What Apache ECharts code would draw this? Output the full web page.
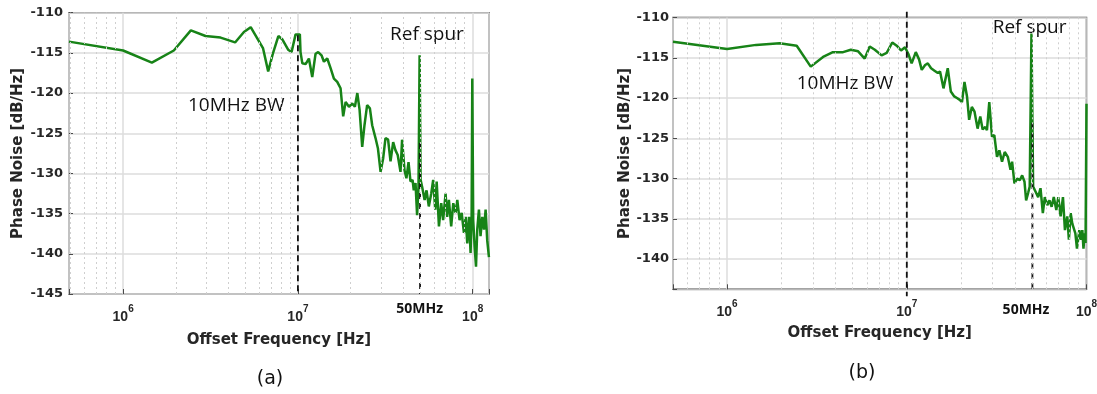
<!DOCTYPE html>
<html><head><meta charset="utf-8">
<script src="https://cdn.jsdelivr.net/npm/echarts@6/dist/echarts.min.js"></script>
<style>html,body{margin:0;padding:0;background:#fff}#c{width:1097px;height:394px}</style>
</head><body><div id="c"></div>
<script>
// ---------- data ----------
// (a) phase noise vs offset frequency
const freqA = [4.9e5,1.0e6,1.46e6,1.95e6,2.44e6,2.96e6,3.61e6,4.37e6,4.91e6,5.37e6,6.31e6,6.76e6,7.19e6,7.73e6,8.13e6,8.79e6,9.2e6,9.7e6,1.026e7,
  1.035e7,1.06e7,1.107e7,1.156e7,1.208e7,1.262e7,1.306e7,1.365e7,1.409e7,1.472e7,1.538e7,1.607e7,1.679e7,1.754e7,1.816e7,1.875e7,1.959e7,2.046e7,2.118e7,2.188e7,2.254e7,2.333e7,2.404e7,2.489e7,2.582e7,2.661e7,2.723e7,2.78e7,2.871e7,2.972e7,3.076e7,3.17e7,3.281e7,3.388e7,3.508e7,3.614e7,3.724e7,3.864e7,3.945e7,
  4.074e7,4.178e7,4.295e7,4.406e7,4.529e7,4.603e7,4.71e7,4.808e7,4.898e7,4.97e7,5.0e7,5.035e7,5.14e7,5.309e7,5.445e7,5.61e7,5.794e7,5.943e7,6.109e7,6.223e7,6.412e7,6.607e7,6.776e7,6.998e7,7.145e7,7.311e7,7.534e7,7.745e7,7.98e7,8.166e7,8.414e7,8.65e7,8.913e7,9.12e7,9.311e7,9.528e7,9.727e7,9.863e7,9.95e7,1.0e8,1.007e8,1.026e8,1.045e8,1.062e8,1.086e8,1.109e8,1.135e8,1.161e8,1.186e8,1.211e8,1.239e8];
const noiseA = [-113.6,-114.7,-116.2,-114.7,-112.2,-112.9,-113.1,-113.7,-112.4,-111.8,-114.4,-117.3,-115.1,-112.9,-113.3,-114.6,-114.9,-112.7,-112.7,
  -114.9,-116.3,-116.4,-115.7,-118.0,-115.1,-114.9,-115.3,-116.1,-115.7,-116.9,-118.2,-118.6,-119.4,-122.9,-121.1,-121.7,-121.3,-121.7,-120.0,-122.1,-126.7,-124.0,-121.5,-121.9,-124.0,-123.8,-125.6,-126.9,-129.8,-128.1,-125.6,-125.8,-128.5,-126.1,-127.1,-127.7,-129.8,-125.8,
  -129.6,-130.6,-128.6,-131.0,-130.8,-132.1,-131.2,-135.2,-131.7,-115.3,-115.5,-130.8,-131.7,-133.3,-132.1,-134.1,-132.5,-130.8,-134.5,-131.0,-136.6,-133.7,-135.8,-132.5,-135.4,-133.3,-136.6,-133.7,-134.9,-133.3,-135.8,-134.9,-137.4,-135.4,-138.7,-135.4,-139.9,-135.2,-118.2,-118.3,-135.8,-139.1,-141.6,-137.0,-134.5,-137.8,-135.4,-137.0,-134.5,-138.3,-140.4];
// (b) phase noise vs offset frequency
const freqB = [5.0e5,1.0e6,1.45e6,1.96e6,2.44e6,2.92e6,3.42e6,3.88e6,4.42e6,4.88e6,5.36e6,5.83e6,6.22e6,6.64e6,7.24e6,7.73e6,8.3e6,8.79e6,9.29e6,9.77e6,
  1.019e7,1.064e7,1.122e7,1.17e7,1.211e7,1.265e7,1.309e7,1.365e7,1.426e7,1.489e7,1.531e7,1.6e7,1.69e7,1.758e7,1.837e7,1.901e7,1.963e7,2.028e7,2.094e7,2.163e7,2.223e7,2.301e7,2.382e7,2.477e7,2.564e7,2.642e7,2.735e7,2.793e7,2.877e7,2.979e7,3.069e7,3.177e7,3.273e7,3.388e7,3.508e7,3.648e7,3.776e7,3.855e7,3.972e7,4.111e7,4.256e7,4.385e7,4.519e7,4.613e7,4.732e7,4.831e7,
  4.94e7,4.99e7,5.047e7,5.2e7,5.383e7,5.546e7,5.715e7,5.861e7,6.053e7,6.223e7,6.397e7,6.577e7,6.792e7,6.966e7,7.178e7,7.396e7,7.586e7,7.816e7,7.98e7,8.166e7,8.337e7,8.67e7,8.85e7,9.12e7,9.33e7,9.48e7,9.62e7,9.77e7,9.88e7,1.0e8];
const noiseB = [-113.0,-113.9,-113.4,-113.2,-113.5,-116.1,-114.9,-114.3,-114.3,-114.0,-114.2,-115.1,-113.6,-114.0,-114.7,-114.4,-113.1,-113.5,-114.1,-113.7,
  -114.5,-115.7,-114.3,-115.2,-116.5,-115.9,-115.7,-116.3,-116.6,-116.9,-116.7,-118.8,-116.3,-119.2,-119.8,-120.0,-120.2,-120.5,-118.0,-119.8,-122.7,-121.1,-121.7,-123.8,-122.3,-123.9,-123.6,-124.0,-120.5,-124.8,-124.6,-127.3,-126.5,-127.9,-126.7,-127.3,-128.9,-127.9,-130.6,-130.0,-130.2,-129.6,-130.4,-132.7,-131.8,-131.0,
  -112.0,-112.0,-131.0,-131.6,-132.3,-131.2,-134.3,-132.3,-133.3,-132.7,-133.5,-132.3,-133.9,-132.3,-134.7,-132.3,-136.4,-134.7,-137.6,-134.3,-135.6,-136.8,-138.7,-136.4,-137.6,-136.4,-138.7,-136.8,-138.0,-120.7];
// marker lines: 10 MHz loop bandwidth and 50 MHz reference spur
const markerFreqs = [1e7, 5e7];
const markerSpanA = [[-112.8, -145], [-126.2, -145]];
const markerSpanB = [[-109.3, -144.6], [-123.1, -143.75]];
// axis ranges
const xRangeA = [4.9e5, 1.24e8];
const xRangeB = [5e5, 1e8];
const yRangeA = [-145, -110];
const yRangeB = [-143.75, -110];
const yStep = 5;
const minorMultipliers = [2,3,4,5,6,7,8,9];
const decades = [1e5, 1e6, 1e7];

// ---------- chart ----------
const chart = echarts.init(document.getElementById('c'), null, {renderer: 'canvas'});
const GREEN = '#178317';
const AXIS = '#4a4a4a';
const TXT = '#262626';

function minorLines(range) {
  const out = [];
  decades.forEach(d => minorMultipliers.forEach(m => {
    const f = d * m;
    if (f > range[0] && f < range[1]) out.push({xAxis: f});
  }));
  return out;
}
function logLabel(v) {
  const e = Math.log10(v), r = Math.round(e);
  return Math.abs(e - r) < 1e-6 ? '{b|10}{s|' + r + '}' : '';
}
function xAxisCfg(idx, range, nameGap) {
  return {
    type: 'log', logBase: 10, gridIndex: idx, min: range[0], max: range[1],
    name: 'Offset Frequency [Hz]', nameLocation: 'middle', nameGap: nameGap,
    nameTextStyle: {fontFamily: 'DejaVu Sans', fontWeight: 'bold', fontSize: 15, color: TXT},
    axisLine: {show: false},
    axisTick: {show: true, inside: true, length: 5, lineStyle: {color: AXIS, width: 1}},
    axisLabel: {formatter: logLabel, margin: 10, hideOverlap: false,
      rich: {
        b: {fontFamily: 'Liberation Sans', fontWeight: 'bold', fontSize: 14, color: TXT, lineHeight: 20, verticalAlign: 'bottom'},
        s: {fontFamily: 'Liberation Sans', fontWeight: 'bold', fontSize: 10, color: TXT, lineHeight: 10, verticalAlign: 'top'}
      }},
    splitLine: {show: true, lineStyle: {color: '#dcdcdc', width: 1.5}},
    minorTick: {show: false}, minorSplitLine: {show: false}
  };
}
function yAxisCfg(idx, range, nameGap, margin, interval) {
  const cfg = {
    type: 'value', gridIndex: idx, min: range[0], max: range[1],
    name: 'Phase Noise [dB/Hz]', nameLocation: 'middle', nameGap: nameGap,
    nameTextStyle: {fontFamily: 'DejaVu Sans', fontWeight: 'bold', fontSize: 15, color: TXT},
    axisLine: {show: false},
    axisTick: {show: true, inside: true, length: 4, lineStyle: {color: AXIS}},
    axisLabel: {margin: margin, fontFamily: 'DejaVu Sans', fontWeight: 'bold', fontSize: 13, color: TXT,
      formatter: v => (Math.abs(v / yStep - Math.round(v / yStep)) < 1e-9 ? String(v) : '')},
    splitLine: {show: true, lineStyle: {color: '#dcdcdc', width: 1.5}}
  };
  if (interval) cfg.interval = interval;
  return cfg;
}
function pairs(xs, ys) { return xs.map((x, i) => [x, ys[i]]); }
function dashSeries(idx, spans) {
  return markerFreqs.map((f, i) => ({
    type: 'line', xAxisIndex: idx, yAxisIndex: idx, clip: false, silent: true,
    symbol: 'none', data: [[f, spans[i][0]], [f, spans[i][1]]], z: 4,
    lineStyle: {color: '#111', width: 1.8, type: [6, 4]}
  }));
}
function mainSeries(idx, xs, ys, range) {
  return {
    type: 'line', xAxisIndex: idx, yAxisIndex: idx, symbol: 'none', z: 3,
    data: pairs(xs, ys), lineStyle: {color: GREEN, width: 2.5},
    markLine: {silent: true, symbol: 'none', label: {show: false}, animation: false,
      lineStyle: {type: [2, 3], color: '#cfcfcf', width: 1}, data: minorLines(range)}
  };
}
const annotFont = '19px "Open Sans"';
function txt(x, y, text, font, align) {
  return {type: 'text', x: x, y: y, silent: true,
    style: {text: text, font: font, fill: '#111', align: align || 'left', verticalAlign: 'middle'}};
}
chart.setOption({
  animation: false,
  grid: [
    {left: 69, top: 12.7, width: 420, height: 281.3, show: true, borderColor: AXIS, borderWidth: 1.5, backgroundColor: '#fff', containLabel: false, outerBoundsMode: 'none'},
    {left: 673, top: 17.5, width: 413.5, height: 271.8, show: true, borderColor: AXIS, borderWidth: 1.5, backgroundColor: '#fff', containLabel: false, outerBoundsMode: 'none'}
  ],
  xAxis: [xAxisCfg(0, xRangeA, 39), xAxisCfg(1, xRangeB, 36)],
  yAxis: [yAxisCfg(0, yRangeA, 43, 6, yStep), yAxisCfg(1, yRangeB, 37, 4, null)],
  series: [
    mainSeries(0, freqA, noiseA, xRangeA),
    mainSeries(1, freqB, noiseB, xRangeB),
    ...dashSeries(0, markerSpanA),
    ...dashSeries(1, markerSpanB)
  ],
  graphic: [
    txt(390, 35, 'Ref spur', annotFont),
    txt(188, 106, '10MHz BW', annotFont),
    txt(419.6, 309, '50MHz', 'bold 14px "Open Sans"', 'center'),
    txt(270, 379, '(a)', '19px "DejaVu Sans"', 'center'),
    txt(992.7, 27.7, 'Ref spur', annotFont),
    txt(796.7, 83.3, '10MHz BW', annotFont),
    txt(1026, 310, '50MHz', 'bold 14px "Open Sans"', 'center'),
    txt(862, 373, '(b)', '19px "DejaVu Sans"', 'center')
  ]
});
</script></body></html>
